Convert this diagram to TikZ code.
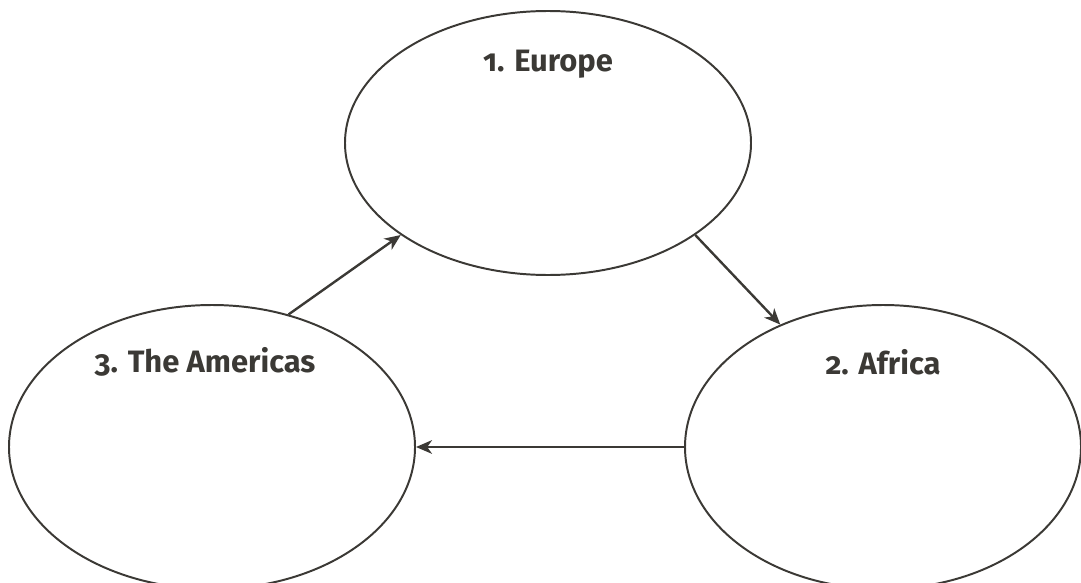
\documentclass[tikz,border=0pt]{standalone}
\usepackage{fontspec}
\setmainfont{Fira Sans}[Numbers=OldStyle]
\usepackage{xcolor}
\usepackage{tikz}
\usetikzlibrary{arrows.meta,positioning}
\usetikzlibrary{calc,shapes.geometric}

\definecolor{ink}{HTML}{3B3935}

\begin{document}
\begin{tikzpicture}[
                    region/.style={draw=ink, ellipse, line width=1.4pt, inner sep=0pt},
                    lbl/.style={font=\fontsize{22}{26}\selectfont\bfseries, text=ink, inner sep=0pt},
                    flow/.style={-{Stealth[length=4mm, width=3.4mm, inset=1.2mm]}, draw=ink, line width=1.7pt}
                ]
                    \useasboundingbox (0,0) rectangle (27.025,-14.55);
                    \clip (0,0) rectangle (27.025,-14.55);

                    % Regions
                    \node[region, minimum width=10.15cm, minimum height=6.6cm] (Europe) at (13.7,-3.575) {};
                    \node[region, minimum width=10.15cm, minimum height=7.1cm] (Americas) at (5.3,-11.175) {};
                    \node[region, minimum width=9.9cm, minimum height=7.1cm] (Africa) at (22.075,-11.175) {};

                    % Labels
                    \node[lbl] (EuropeLbl) at ([yshift=-1.35cm]Europe.north) {1. Europe};
                    \node[lbl] (AfricaLbl) at ([yshift=-1.45cm]Africa.north) {2. Africa};
                    \node[lbl] (AmericasLbl) at ([xshift=-0.175cm, yshift=-1.45cm]Americas.north) {3. The Americas};

                    % Trade routes
                    \draw[flow] (Americas.60.3) -- (Europe.212.1);
                    \draw[flow] (Europe.-32.3) -- (Africa.130.7);
                    \draw[flow] (Africa.180) -- (Americas.0);
                \end{tikzpicture}
\end{document}
